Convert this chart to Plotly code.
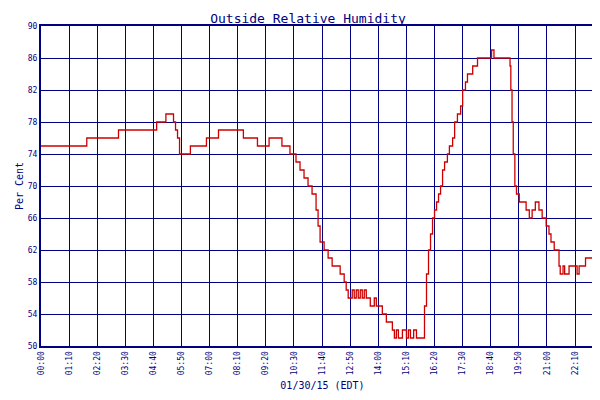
import plotly.graph_objects as go

minutes = [0,114,193,288,311,330,335,340,345,372,412,442,504,539,568,600,620,635,645,655,665,675,685,690,695,705,715,725,745,755,760,765,
           775,780,785,790,795,800,805,810,820,830,835,850,860,870,875,880,885,890,900,910,915,920,928,935,955,960,965,970,975,980,985,990,995,1000,1005,
           1012,1017,1025,1030,1037,1045,1050,1057,1062,1075,1087,1122,1124,1128,1162,1166,1168,1170,1173,1176,1180,1184,1191,1208,1216,1223,1231,1240,1248,1258,1265,1270,1278,
           1290,1293,1297,1300,1304,1315,1335,1340,1352,1356,1365,1385,1398]
humidity = [75,76,77,78,79,78,77,76,74,75,76,77,76,75,76,75,74,73,72,71,70,69,67,65,63,62,61,60,59,58,57,56,
            57,56,57,56,57,56,57,56,55,56,55,54,53,53,52,51,52,51,52,51,52,51,52,51,55,59,62,64,66,67,68,69,70,72,73,
            74,75,76,78,79,80,82,83,84,85,86,87,87,86,86,86,85,82,78,74,70,69,68,67,66,67,68,67,66,65,64,63,62,60,59,
            59,60,59,60,59,60,60,61,61,60,59,58,59]

tick_vals = list(range(0, 1401, 70))
tick_text = [f"{v//60:02d}:{v%60:02d}" for v in tick_vals]
y_ticks = list(range(50, 91, 4))

navy = "#000080"
fig = go.Figure(go.Scatter(x=minutes, y=humidity, mode="lines", line=dict(color="#cc0000", width=1.3, shape="hv"),
                           name="Relative Humidity"))
font = dict(family="DejaVu Sans Mono", size=9, color=navy)
fig.update_layout(
    width=600, height=400, plot_bgcolor="white", paper_bgcolor="white",
    margin=dict(l=33, r=4, t=18, b=62, autoexpand=False),
    title=dict(text="Outside Relative Humidity", x=0.5, y=0.985, yanchor="top",
               font=dict(family="DejaVu Sans Mono", size=13, color=navy)),
    font=font,
    showlegend=True,
    legend=dict(orientation="h", x=0.5, xanchor="center", y=-0.17, yanchor="top", font=dict(size=8, color=navy)),
    xaxis=dict(range=[0, 1402], tickvals=tick_vals, ticktext=tick_text, tickangle=-90, automargin=False,
               tickfont=dict(size=8, color=navy),
               showgrid=True, gridcolor=navy, gridwidth=1, showline=True, linecolor=navy, linewidth=2, mirror=True,
               ticks="", zeroline=False, title=dict(text="01/30/15 (EDT)", font=dict(size=10, color=navy), standoff=8)),
    yaxis=dict(range=[50, 90], tickvals=y_ticks, showgrid=True, gridcolor=navy, gridwidth=1, automargin=False,
               tickfont=dict(size=8, color=navy),
               showline=True, linecolor=navy, linewidth=2, mirror=True, ticks="", zeroline=False,
               title=dict(text="Per Cent", font=dict(size=10, color=navy), standoff=2)),
)
fig.write_html("out.html")
